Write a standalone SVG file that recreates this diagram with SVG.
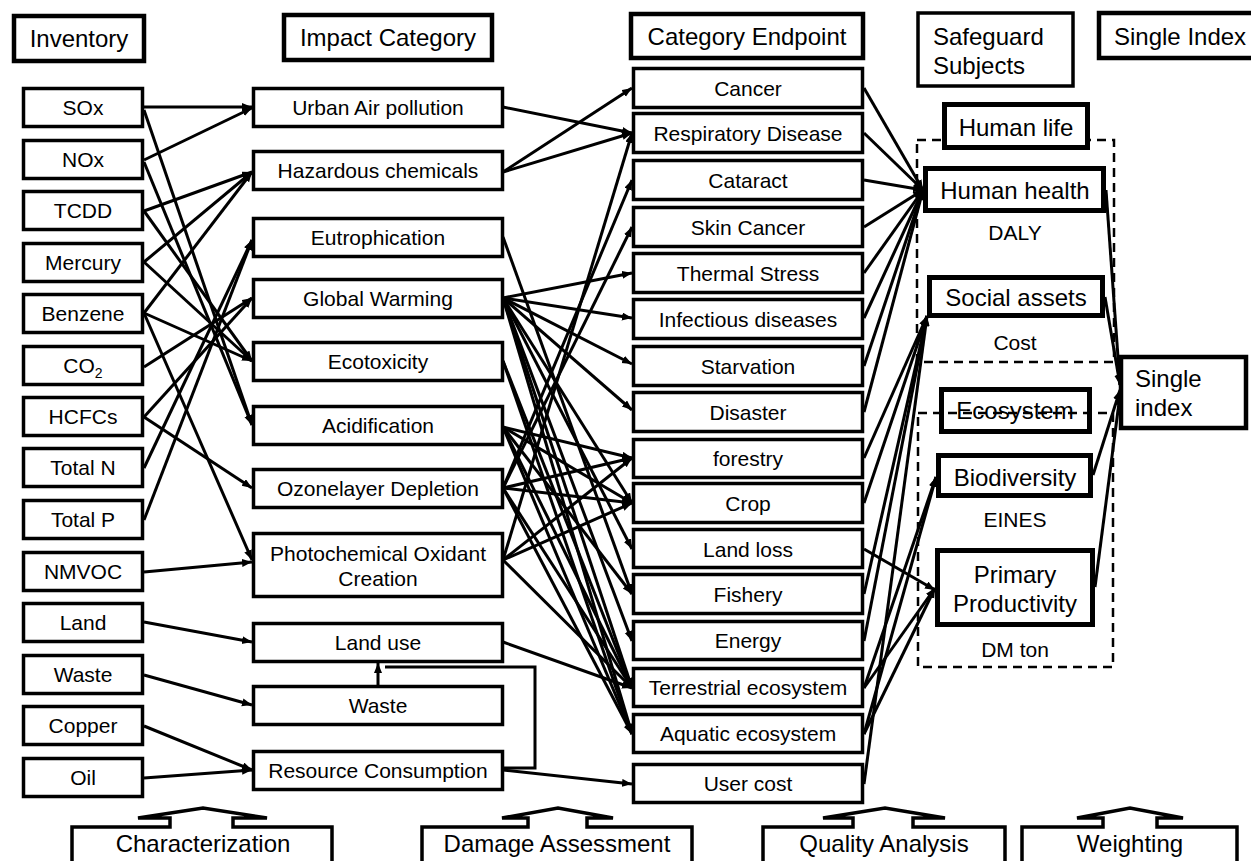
<svg xmlns="http://www.w3.org/2000/svg" width="1251" height="861" viewBox="0 0 1251 861">
<style>
.hd{fill:#fff;stroke:#000;stroke-width:4.5}
.bx{fill:#fff;stroke:#000;stroke-width:3.5}
.tk{fill:#fff;stroke:#000;stroke-width:5}
.dash{fill:none;stroke:#000;stroke-width:2.5;stroke-dasharray:9 6}
.t{font-family:"Liberation Sans",Arial,sans-serif;font-size:21px;fill:#000;text-anchor:middle}
.h{font-family:"Liberation Sans",Arial,sans-serif;font-size:24px;fill:#000;text-anchor:middle}
.hl{font-family:"Liberation Sans",Arial,sans-serif;font-size:24px;fill:#000}
.c line,.c path{stroke:#000;stroke-width:3;fill:none;marker-end:url(#ah)}
.c .n{marker-end:none}
.ba{fill:#fff;stroke:#000;stroke-width:3.5;stroke-linejoin:miter}
</style>
<defs>
<marker id="ah" markerUnits="userSpaceOnUse" markerWidth="11" markerHeight="9" refX="10" refY="4" orient="auto">
<path d="M0,0 L10,4 L0,8 z" fill="#000"/>
</marker>
</defs>

<!-- headers -->
<g id="h-inventory"><rect class="hd" x="14" y="16" width="130" height="45"/><text class="h" x="79" y="47">Inventory</text></g>
<g id="h-impact"><rect class="hd" x="284" y="15" width="208" height="45"/><text class="h" x="388" y="46">Impact Category</text></g>
<g id="h-endpoint"><rect class="hd" x="631" y="14" width="232" height="44"/><text class="h" x="747" y="45">Category Endpoint</text></g>
<g id="h-safeguard"><rect class="bx" x="918" y="13" width="155" height="73"/><text class="hl" x="933" y="45">Safeguard</text><text class="hl" x="933" y="74">Subjects</text></g>
<g id="h-single"><rect class="hd" x="1099" y="13" width="160" height="45"/><text class="hl" x="1114" y="45">Single Index</text></g>

<!-- connectors -->
<g id="connectors" class="c">
<!-- inventory to impact -->
<line x1="144" y1="107" x2="252" y2="107"/>
<line x1="144" y1="160" x2="252" y2="108"/>
<line x1="144" y1="110" x2="252" y2="425"/>
<line x1="144" y1="162" x2="252" y2="425"/>
<line x1="144" y1="211" x2="252" y2="172"/>
<line x1="144" y1="262" x2="252" y2="172"/>
<line x1="144" y1="313" x2="252" y2="172"/>
<line x1="144" y1="211" x2="252" y2="361"/>
<line x1="144" y1="262" x2="252" y2="361"/>
<line x1="144" y1="313" x2="252" y2="361"/>
<line x1="144" y1="313" x2="252" y2="560"/>
<line x1="144" y1="367" x2="252" y2="298"/>
<line x1="144" y1="417" x2="252" y2="298"/>
<line x1="144" y1="417" x2="252" y2="488"/>
<line x1="144" y1="468" x2="252" y2="240"/>
<line x1="144" y1="520" x2="252" y2="240"/>
<line x1="144" y1="572" x2="252" y2="562"/>
<line x1="144" y1="622" x2="252" y2="642"/>
<line x1="144" y1="675" x2="252" y2="705"/>
<line x1="144" y1="726" x2="252" y2="770"/>
<line x1="144" y1="778" x2="252" y2="770"/>
<!-- impact to endpoint -->
<line x1="503" y1="107" x2="632" y2="133"/>
<line x1="503" y1="172" x2="632" y2="88"/>
<line x1="503" y1="172" x2="632" y2="133"/>
<line x1="503" y1="237" x2="632" y2="594"/>
<line x1="503" y1="298" x2="632" y2="273"/>
<line x1="503" y1="298" x2="632" y2="318"/>
<line x1="503" y1="298" x2="632" y2="364"/>
<line x1="503" y1="298" x2="632" y2="410"/>
<line x1="503" y1="298" x2="632" y2="503"/>
<line x1="503" y1="298" x2="632" y2="549"/>
<line x1="503" y1="298" x2="632" y2="641"/>
<line x1="503" y1="298" x2="632" y2="688"/>
<line x1="503" y1="298" x2="632" y2="734"/>
<line x1="503" y1="361" x2="632" y2="688"/>
<line x1="503" y1="361" x2="632" y2="734"/>
<line x1="503" y1="427" x2="632" y2="458"/>
<line x1="503" y1="427" x2="632" y2="503"/>
<line x1="503" y1="427" x2="632" y2="594"/>
<line x1="503" y1="427" x2="632" y2="688"/>
<line x1="503" y1="427" x2="632" y2="734"/>
<line x1="503" y1="488" x2="632" y2="180"/>
<line x1="503" y1="488" x2="632" y2="227"/>
<line x1="503" y1="488" x2="632" y2="458"/>
<line x1="503" y1="488" x2="632" y2="503"/>
<line x1="503" y1="488" x2="632" y2="688"/>
<line x1="503" y1="488" x2="632" y2="734"/>
<line x1="503" y1="560" x2="632" y2="133"/>
<line x1="503" y1="560" x2="632" y2="458"/>
<line x1="503" y1="560" x2="632" y2="503"/>
<line x1="503" y1="560" x2="632" y2="688"/>
<line x1="503" y1="642" x2="632" y2="688"/>
<line x1="503" y1="770" x2="632" y2="784"/>
<path class="n" d="M503,768 H535 V667 H385"/>
<line x1="378" y1="685" x2="378" y2="663"/>
<!-- endpoint to safeguard -->
<line x1="864" y1="88" x2="923" y2="190"/>
<line x1="864" y1="133" x2="923" y2="190"/>
<line x1="864" y1="180" x2="923" y2="190"/>
<line x1="864" y1="227" x2="923" y2="190"/>
<line x1="864" y1="273" x2="923" y2="190"/>
<line x1="864" y1="318" x2="923" y2="190"/>
<line x1="864" y1="366" x2="923" y2="190"/>
<line x1="864" y1="412" x2="923" y2="190"/>
<line x1="864" y1="458" x2="927" y2="316"/>
<line x1="864" y1="503" x2="927" y2="316"/>
<line x1="864" y1="594" x2="927" y2="316"/>
<line x1="864" y1="641" x2="927" y2="316"/>
<line x1="864" y1="784" x2="927" y2="316"/>
<line x1="864" y1="549" x2="935" y2="590"/>
<line x1="864" y1="688" x2="936" y2="477"/>
<line x1="864" y1="734" x2="936" y2="477"/>
<line x1="864" y1="688" x2="935" y2="588"/>
<line x1="864" y1="734" x2="935" y2="588"/>
<!-- safeguard to single index -->
<line x1="1106" y1="190" x2="1120" y2="385"/>
<line x1="1105" y1="297" x2="1120" y2="385"/>
<line x1="1093" y1="475" x2="1120" y2="390"/>
<line x1="1095" y1="587" x2="1120" y2="395"/>
</g>

<!-- inventory nodes -->
<g id="inv-sox"><rect class="bx" x="23.5" y="88.5" width="119" height="38"/><text class="t" x="83" y="115">SOx</text></g>
<g id="inv-nox"><rect class="bx" x="23.5" y="140.5" width="119" height="38"/><text class="t" x="83" y="167">NOx</text></g>
<g id="inv-tcdd"><rect class="bx" x="23.5" y="191.5" width="119" height="38"/><text class="t" x="83" y="218">TCDD</text></g>
<g id="inv-mercury"><rect class="bx" x="23.5" y="243.5" width="119" height="38"/><text class="t" x="83" y="270">Mercury</text></g>
<g id="inv-benzene"><rect class="bx" x="23.5" y="294.5" width="119" height="38"/><text class="t" x="83" y="321">Benzene</text></g>
<g id="inv-co2"><rect class="bx" x="23.5" y="346.5" width="119" height="38"/><text class="t" x="83" y="373">CO<tspan font-size="14" dy="5">2</tspan></text></g>
<g id="inv-hcfcs"><rect class="bx" x="23.5" y="397.5" width="119" height="38"/><text class="t" x="83" y="424">HCFCs</text></g>
<g id="inv-totaln"><rect class="bx" x="23.5" y="448.5" width="119" height="38"/><text class="t" x="83" y="475">Total N</text></g>
<g id="inv-totalp"><rect class="bx" x="23.5" y="500.5" width="119" height="38"/><text class="t" x="83" y="527">Total P</text></g>
<g id="inv-nmvoc"><rect class="bx" x="23.5" y="552.5" width="119" height="38"/><text class="t" x="83" y="579">NMVOC</text></g>
<g id="inv-land"><rect class="bx" x="23.5" y="603.5" width="119" height="38"/><text class="t" x="83" y="630">Land</text></g>
<g id="inv-waste"><rect class="bx" x="23.5" y="655.5" width="119" height="38"/><text class="t" x="83" y="682">Waste</text></g>
<g id="inv-copper"><rect class="bx" x="23.5" y="706.5" width="119" height="38"/><text class="t" x="83" y="733">Copper</text></g>
<g id="inv-oil"><rect class="bx" x="23.5" y="758.5" width="119" height="38"/><text class="t" x="83" y="785">Oil</text></g>

<!-- impact nodes -->
<g id="imp-urban"><rect class="bx" x="253.5" y="88.5" width="249" height="38"/><text class="t" x="378" y="115">Urban Air pollution</text></g>
<g id="imp-hazardous"><rect class="bx" x="253.5" y="151.5" width="249" height="38"/><text class="t" x="378" y="178">Hazardous chemicals</text></g>
<g id="imp-eutro"><rect class="bx" x="253.5" y="218.5" width="249" height="38"/><text class="t" x="378" y="245">Eutrophication</text></g>
<g id="imp-gw"><rect class="bx" x="253.5" y="279.5" width="249" height="38"/><text class="t" x="378" y="306">Global Warming</text></g>
<g id="imp-ecotox"><rect class="bx" x="253.5" y="342.5" width="249" height="38"/><text class="t" x="378" y="369">Ecotoxicity</text></g>
<g id="imp-acid"><rect class="bx" x="253.5" y="406.5" width="249" height="38"/><text class="t" x="378" y="433">Acidification</text></g>
<g id="imp-ozone"><rect class="bx" x="253.5" y="469.5" width="249" height="38"/><text class="t" x="378" y="496">Ozonelayer Depletion</text></g>
<g id="imp-photo"><rect class="bx" x="253.5" y="533.5" width="249" height="63"/><text class="t" x="378" y="561">Photochemical Oxidant</text><text class="t" x="378" y="586">Creation</text></g>
<g id="imp-landuse"><rect class="bx" x="253.5" y="623.5" width="249" height="38"/><text class="t" x="378" y="650">Land use</text></g>
<g id="imp-waste"><rect class="bx" x="253.5" y="686.5" width="249" height="38"/><text class="t" x="378" y="713">Waste</text></g>
<g id="imp-resource"><rect class="bx" x="253.5" y="751.5" width="249" height="38"/><text class="t" x="378" y="778">Resource Consumption</text></g>

<!-- endpoint nodes -->
<g id="ep-cancer"><rect class="bx" x="633.5" y="68.5" width="229" height="39"/><text class="t" x="748" y="96">Cancer</text></g>
<g id="ep-resp"><rect class="bx" x="633.5" y="113.5" width="229" height="39"/><text class="t" x="748" y="141">Respiratory Disease</text></g>
<g id="ep-cataract"><rect class="bx" x="633.5" y="160.5" width="229" height="39"/><text class="t" x="748" y="188">Cataract</text></g>
<g id="ep-skin"><rect class="bx" x="633.5" y="207.5" width="229" height="39"/><text class="t" x="748" y="235">Skin Cancer</text></g>
<g id="ep-thermal"><rect class="bx" x="633.5" y="253.5" width="229" height="39"/><text class="t" x="748" y="281">Thermal Stress</text></g>
<g id="ep-infect"><rect class="bx" x="633.5" y="299.5" width="229" height="39"/><text class="t" x="748" y="327">Infectious diseases</text></g>
<g id="ep-starv"><rect class="bx" x="633.5" y="346.5" width="229" height="39"/><text class="t" x="748" y="374">Starvation</text></g>
<g id="ep-disaster"><rect class="bx" x="633.5" y="392.5" width="229" height="39"/><text class="t" x="748" y="420">Disaster</text></g>
<g id="ep-forestry"><rect class="bx" x="633.5" y="439.5" width="229" height="38"/><text class="t" x="748" y="466">forestry</text></g>
<g id="ep-crop"><rect class="bx" x="633.5" y="483.5" width="229" height="39"/><text class="t" x="748" y="511">Crop</text></g>
<g id="ep-landloss"><rect class="bx" x="633.5" y="529.5" width="229" height="38"/><text class="t" x="748" y="557">Land loss</text></g>
<g id="ep-fishery"><rect class="bx" x="633.5" y="574.5" width="229" height="39"/><text class="t" x="748" y="602">Fishery</text></g>
<g id="ep-energy"><rect class="bx" x="633.5" y="621.5" width="229" height="38"/><text class="t" x="748" y="648">Energy</text></g>
<g id="ep-terr"><rect class="bx" x="633.5" y="668.5" width="229" height="38"/><text class="t" x="748" y="695">Terrestrial ecosystem</text></g>
<g id="ep-aqua"><rect class="bx" x="633.5" y="714.5" width="229" height="38"/><text class="t" x="748" y="741">Aquatic ecosystem</text></g>
<g id="ep-usercost"><rect class="bx" x="633.5" y="764.5" width="229" height="38"/><text class="t" x="748" y="791">User cost</text></g>

<!-- safeguard nodes -->
<rect class="dash" x="917" y="140" width="197" height="222"/>
<g id="sg-humanlife"><rect class="tk" x="944.5" y="104.5" width="143" height="43"/><text class="h" x="1016" y="136">Human life</text></g>
<g id="sg-humanhealth"><rect class="tk" x="925.5" y="168.5" width="178" height="42"/><text class="h" x="1015" y="199">Human health</text></g>
<text class="t" x="1015" y="240">DALY</text>
<g id="sg-social"><rect class="tk" x="929.5" y="277.5" width="173" height="38"/><text class="h" x="1016" y="306">Social assets</text></g>
<text class="t" x="1015" y="350">Cost</text>
<g id="sg-ecosystem"><rect class="tk" x="941.5" y="389.5" width="148" height="42"/><text class="h" x="1015" y="419">Ecosystem</text></g>
<rect class="dash" x="918" y="413" width="195" height="254"/>
<g id="sg-biodiv"><rect class="tk" x="938.5" y="455.5" width="152" height="40"/><text class="h" x="1015" y="486">Biodiversity</text></g>
<text class="t" x="1015" y="527">EINES</text>
<g id="sg-primary"><rect class="tk" x="937.5" y="550.5" width="155" height="74"/><text class="h" x="1015" y="583">Primary</text><text class="h" x="1015" y="612">Productivity</text></g>
<text class="t" x="1015" y="657">DM ton</text>
<g id="single-index"><rect class="hd" x="1121" y="357" width="125" height="71"/><text class="hl" x="1135" y="387">Single</text><text class="hl" x="1135" y="416">index</text></g>

<!-- bottom stage labels -->
<g id="stage-char"><path class="ba" d="M72,861 V827 H170 V818 H138 L203,808 L267,818 H233 V827 H332 V861"/><text class="h" x="203" y="852">Characterization</text></g>
<g id="stage-damage"><path class="ba" d="M422,861 V827 H528 V818 H502 L558,808 L613,818 H587 V827 H692 V861"/><text class="h" x="557" y="852">Damage Assessment</text></g>
<g id="stage-quality"><path class="ba" d="M763,861 V827 H853 V818 H823 L885,808 L945,818 H913 V827 H1005 V861"/><text class="h" x="884" y="852">Quality Analysis</text></g>
<g id="stage-weight"><path class="ba" d="M1022,861 V827 H1103 V818 H1077 L1130,808 L1183,818 H1157 V827 H1237 V861"/><text class="h" x="1130" y="852">Weighting</text></g>
</svg>
